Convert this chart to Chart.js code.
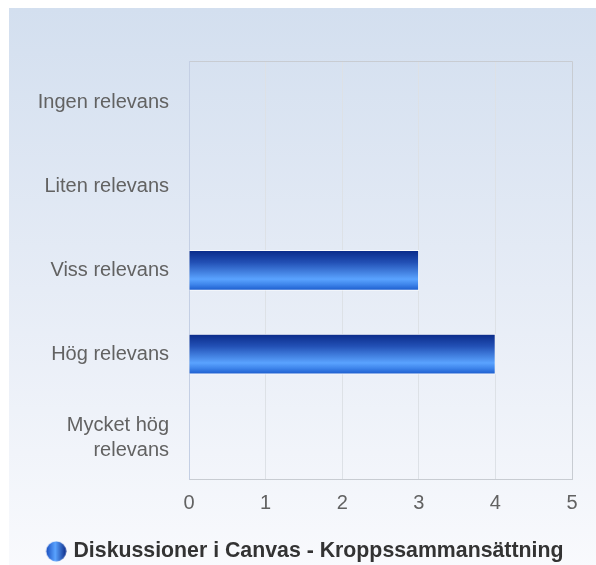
<!DOCTYPE html>
<html><head><meta charset="utf-8">
<script src="https://cdn.jsdelivr.net/npm/chart.js@4/dist/chart.umd.min.js"></script>
<style>
html,body{margin:0;padding:0;background:#fff;width:596px;height:565px;overflow:hidden}
#wrap{position:absolute;left:9px;top:8px;width:587px;height:564px;background:linear-gradient(to bottom,#d3dfef 0%,#e6ecf6 50%,#f9fafd 100%)}
</style></head>
<body><div id="wrap"><canvas id="c" width="587" height="564"></canvas></div>
<script>
const categories = ["Ingen relevans", "Liten relevans", "Viss relevans", "Hög relevans", ["Mycket hög", "relevans"]];
const values = [0, 0, 3, 4, 0];
const xTicks = [0, 1, 2, 3, 4, 5];
const seriesName = "Diskussioner i Canvas - Kroppssammansättning";

const BAR = 40;
function barFill(ctx) {
  const chart = ctx.chart;
  const y = chart.scales && chart.scales.y;
  if (!chart.chartArea || !y || ctx.dataIndex === undefined) return '#2f6fe0';
  const cy = y.getPixelForValue(ctx.dataIndex);
  const g = chart.ctx.createLinearGradient(0, cy - BAR/2, 0, cy + BAR/2);
  g.addColorStop(0, '#0a2a88');
  g.addColorStop(0.3, '#2250b5');
  g.addColorStop(0.72, '#5aa3ff');
  g.addColorStop(0.85, '#3f86ec');
  g.addColorStop(1, '#1b5bcc');
  return g;
}
const icon = document.createElement('canvas');
icon.width = 29; icon.height = 21;
(function(){
  const c = icon.getContext('2d');
  const g = c.createLinearGradient(8.5, 0, 28.5, 0);
  g.addColorStop(0, '#1a4fc0');
  g.addColorStop(0.45, '#5aa3ff');
  g.addColorStop(1, '#0a2a88');
  c.fillStyle = g;
  c.beginPath(); c.arc(18.5, 10.5, 10, 0, Math.PI*2); c.fill();
})();

const frame = {
  id: 'frame',
  beforeDatasetsDraw(chart) {
    const a = chart.chartArea, c = chart.ctx;
    c.save();
    c.strokeStyle = '#c8ccd2'; c.lineWidth = 1;
    c.beginPath();
    c.moveTo(a.left, a.top + 0.5); c.lineTo(a.right + 0.5, a.top + 0.5);
    c.lineTo(a.right + 0.5, a.bottom);
    c.stroke();
    c.strokeStyle = '#c4cfe4';
    c.beginPath(); c.moveTo(a.left + 0.5, a.top); c.lineTo(a.left + 0.5, a.bottom); c.stroke();
    c.restore();
  }
};

const FONT = 'Liberation Sans, Arial, sans-serif';
new Chart(document.getElementById('c'), {
  type: 'bar',
  data: {
    labels: categories,
    datasets: [{
      label: seriesName,
      data: values,
      backgroundColor: barFill,
      borderColor: 'rgba(255,255,255,0.85)',
      borderWidth: 1,
      borderSkipped: 'start',
      barThickness: BAR,
      pointStyle: icon
    }]
  },
  options: {
    indexAxis: 'y',
    responsive: false,
    animation: false,
    events: [],
    layout: { padding: { top: 53, right: 24, left: 24, bottom: 0 } },
    scales: {
      x: {
        min: 0, max: 5,
        afterBuildTicks(s) { s.ticks = xTicks.map(v => ({ value: v })); },
        afterFit(s) { s.height = s.height + 7; },
        grid: { color: '#dde1e6', drawTicks: false },
        border: { color: '#c8ccd2' },
        ticks: { color: '#626262', font: { family: FONT, size: 20 }, padding: 12 }
      },
      y: {
        grid: { display: false, drawTicks: false },
        border: { display: false },
        afterFit(s) { s.width = 156; },
        ticks: { color: '#626262', font: { family: FONT, size: 20, lineHeight: 1.25 }, padding: 20, crossAlign: 'near' }
      }
    },
    plugins: {
      tooltip: { enabled: false },
      legend: {
        position: 'bottom',
        labels: {
          usePointStyle: true,
          color: '#333',
          font: { family: FONT, size: 21.3, weight: 'bold' },
          padding: 6
        }
      }
    }
  },
  plugins: [frame]
});
</script></body></html>
